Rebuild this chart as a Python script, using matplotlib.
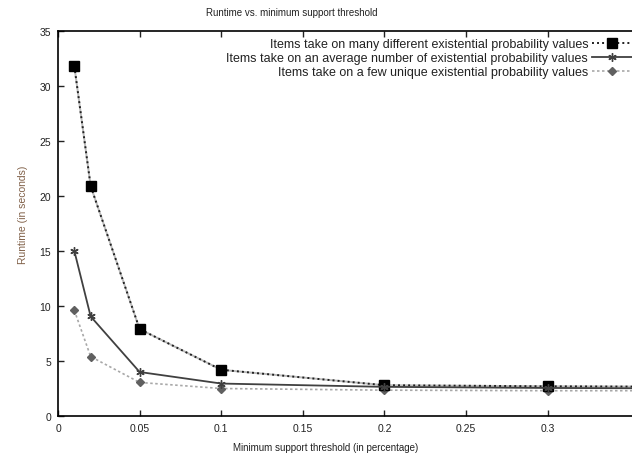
import matplotlib
matplotlib.use("Agg")
import matplotlib.pyplot as plt

plt.rcParams["font.family"] = ["Liberation Sans", "DejaVu Sans"]

# minimum support threshold (in percentage)
support = [0.01, 0.02, 0.05, 0.1, 0.2, 0.3, 0.4]
many_values = [31.8, 20.9, 7.9, 4.2, 2.8, 2.7, 2.65]
avg_values = [15.0, 9.05, 4.0, 2.95, 2.65, 2.55, 2.5]
few_values = [9.6, 5.4, 3.05, 2.5, 2.35, 2.3, 2.3]

labels = [
    "Items take on many different existential probability values",
    "Items take on an average number of existential probability values",
    "Items take on a few unique existential probability values",
]
xticks = [0, 0.05, 0.1, 0.15, 0.2, 0.25, 0.3]
xticklabels = ["0", "0.05", "0.1", "0.15", "0.2", "0.25", "0.3"]
yticks = [0, 5, 10, 15, 20, 25, 30, 35]

fig = plt.figure(figsize=(6.32, 4.56), dpi=100)
# axes run past the right edge of the picture, as in the cropped original
ax = fig.add_axes([0.0918, 0.0855, 1.033, 0.8445])

ax.plot(support, many_values, color="#bbbbbb", lw=1.4, zorder=2)
ax.plot(support, many_values, color="#202020", lw=1.4, ls=(0, (1, 1.6)),
        marker="s", ms=6.5, mfc="black", mec="black", label=labels[0], zorder=3)
ax.plot(support, avg_values, color="#404040", lw=1.3, ls="-",
        marker=(6, 2, 0), ms=6, mec="#404040", label=labels[1], zorder=3)
ax.plot(support, few_values, color="#a8a8a8", lw=1.2, ls=(0, (1.5, 1.5)),
        marker="D", ms=4, mfc="#606060", mec="#606060", label=labels[2], zorder=2)

ax.set_xlim(0, 0.4)
ax.set_ylim(0, 35)
ax.set_xticks(xticks)
ax.set_xticklabels(xticklabels)
ax.set_yticks(yticks)
ax.tick_params(direction="in", top=True, right=True, length=4, width=1,
               labelsize=7.5, colors="#222222", pad=5)
for side in ax.spines.values():
    side.set_linewidth(1.2)

fig.text(0.462, 0.972, "Runtime vs. minimum support threshold",
         ha="center", va="center", fontsize=7, color="#222222")
fig.text(0.036, 0.53, "Runtime (in seconds)", rotation=90,
         ha="center", va="center", fontsize=7.5, color="#806048")
fig.text(0.515, 0.018, "Minimum support threshold (in percentage)",
         ha="center", va="center", fontsize=7, color="#222222")

leg = fig.legend(loc="upper right", bbox_to_anchor=(1.0, 0.914),
                 markerfirst=False, frameon=False, fontsize=9,
                 handlelength=3.2, handletextpad=0.3, labelspacing=0.15,
                 borderpad=0, borderaxespad=0)
for t in leg.get_texts():
    t.set_color("#222222")

fig.savefig("out.png", dpi=100)
plt.close()
